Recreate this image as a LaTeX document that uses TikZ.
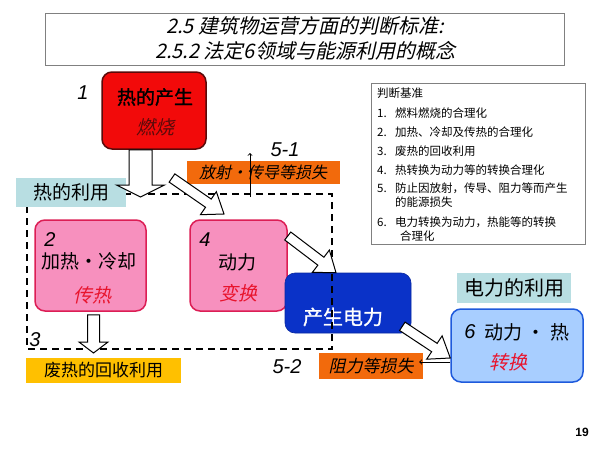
\documentclass[tikz,border=0pt]{standalone}
\usepackage{fontspec}
\setmainfont{Noto Sans CJK SC}
\newfontfamily\cjkit{Noto Sans CJK SC}[FakeSlant=0.22]
\newfontfamily\cjkbf{Noto Sans CJK SC}[FakeBold=1.2]
\newfontfamily\cjkbfit{Noto Sans CJK SC}[FakeBold=1.2,FakeSlant=0.22]
\newfontfamily\latin{Liberation Sans}
\usetikzlibrary{calc}

\definecolor{heatred}{HTML}{F20A0A}
\definecolor{heatline}{HTML}{5A0A0A}
\definecolor{pinkfill}{HTML}{F790BE}
\definecolor{pinkline}{HTML}{DC1E55}
\definecolor{genblue}{HTML}{0A32C8}
\definecolor{elecfill}{HTML}{A8CEFF}
\definecolor{elecline}{HTML}{1E5ADC}
\definecolor{tagteal}{HTML}{B8DEE2}
\definecolor{lossorange}{HTML}{F26A0C}
\definecolor{wasteyellow}{HTML}{FFC000}
\definecolor{accent}{HTML}{E8142D}

\tikzset{
  box/.style={rounded corners=10pt, line width=1.5pt},
  tagbox/.style={inner sep=0pt, font=\fontsize{19}{22}\selectfont},
  losstag/.style={fill=lossorange, inner sep=0pt, font=\cjkit\fontsize{16}{19}\selectfont},
  numlabel/.style={font=\latin\itshape\fontsize{20}{22}\selectfont},
  crit/.style={anchor=west, inner sep=0pt, font=\fontsize{11.5}{13}\selectfont},
  blockarr/.style={draw=black, fill=white, line width=1pt, line join=miter},
  thinarr/.style={->, line width=0.9pt}
}

% tail, tip, half shaft, half head, head length
\newcommand\blockarrow[5]{%
  \coordinate (ba) at (#1);
  \coordinate (bb) at (#2);
  \coordinate (bc) at ($(bb)!#5!(ba)$);
  \draw[blockarr] ($(ba)!#3!90:(bb)$) -- ($(bc)!#3!-90:(ba)$)
    -- ($(bc)!#4!-90:(ba)$) -- (bb) -- ($(bc)!#4!90:(ba)$)
    -- ($(bc)!#3!90:(ba)$) -- ($(ba)!#3!-90:(bb)$) -- cycle;
}
\newcommand\critline[2]{\makebox[18pt][l]{#1}#2}

\begin{document}
\begin{tikzpicture}[x=1pt, y=-1pt]
  \useasboundingbox (0,0) rectangle (600,450);

  % title
  \node[draw=gray, line width=1pt, minimum width=519pt, minimum height=52pt]
    (title) at (304.5,39) {};
  \node[font=\cjkit\fontsize{20}{22}\selectfont] (title1) at (305,26)
    {2.5 建筑物运营方面的判断标准:};
  \node[font=\cjkit\fontsize{20}{22}\selectfont] (title2) at (305,51)
    {2.5.2 法定6领域与能源利用的概念};

  % criteria list
  \node[draw=gray, line width=1pt, minimum width=214pt, minimum height=161pt]
    (criteria) at (478,163.5) {};
  \node[crit] (c0) at (377,93) {判断基准};
  \node[crit] (c1) at (377,113) {\critline{1.}{燃料燃烧的合理化}};
  \node[crit] (c2) at (377,132) {\critline{2.}{加热、冷却及传热的合理化}};
  \node[crit] (c3) at (377,151) {\critline{3.}{废热的回收利用}};
  \node[crit] (c4) at (377,170) {\critline{4.}{热转换为动力等的转换合理化}};
  \node[crit] (c5) at (377,188) {\critline{5.}{防止因放射，传导、阻力等而产生}};
  \node[crit] (c5b) at (395,202) {的能源损失};
  \node[crit] (c6) at (377,222) {\critline{6.}{电力转换为动力，热能等的转换}};
  \node[crit] (c6b) at (400,236) {合理化};

  % 1: heat generation
  \node[box, draw=heatline, fill=heatred, minimum width=104pt, minimum height=77pt]
    (heat) at (154,110.5) {};
  \node[font=\cjkbf\fontsize{19}{22}\selectfont] at (155,97) {热的产生};
  \node[font=\cjkit\fontsize{19}{22}\selectfont, heatline] at (155,127) {燃烧};
  \node[numlabel] (n1) at (83,93) {1};

  % 2 and 4
  \node[box, draw=pinkline, fill=pinkfill, minimum width=111pt, minimum height=91pt]
    (heating) at (90.5,265.5) {};
  \node[numlabel] (n2) at (50,240) {2};
  \node[font=\fontsize{19}{22}\selectfont] at (89,261) {加热·冷却};
  \node[font=\cjkit\fontsize{19}{22}\selectfont, accent] at (92,295) {传热};

  \node[box, draw=pinkline, fill=pinkfill, minimum width=97pt, minimum height=91pt]
    (power) at (238.5,265.5) {};
  \node[numlabel] (n4) at (205,240) {4};
  \node[font=\fontsize{19}{22}\selectfont] at (237,262) {动力};
  \node[font=\cjkit\fontsize{19}{22}\selectfont, accent] at (238,293) {变换};

  % power generation, under the dashed zone
  \node[rounded corners=10pt, draw=genblue!80!black, fill=genblue, line width=0.6pt,
    minimum width=126pt, minimum height=60pt] (gen) at (348,303) {};
  \node[font=\cjkbf\fontsize{20}{23}\selectfont, white] at (343,317) {产生电力};

  \draw[line width=1.2pt, dash pattern=on 7pt off 5pt] (27,194) rectangle (332,349);

  % 6: use of electricity
  \node[box, draw=elecline, fill=elecfill, minimum width=132pt, minimum height=73pt]
    (elec) at (517,345.5) {};
  \node[numlabel] (n6) at (470,332) {6};
  \node[font=\fontsize{19}{22}\selectfont] at (527,332) {动力 · 热};
  \node[font=\cjkit\fontsize{19}{22}\selectfont, accent] at (508,362) {转换};

  % tags
  \node[tagbox, fill=tagteal, minimum width=110pt, minimum height=29pt]
    (heatuse) at (71,192.5) {热的利用};
  \node[tagbox, fill=tagteal, minimum width=114pt, minimum height=30pt,
    font=\fontsize{20}{23}\selectfont] (elecuse) at (514,288) {电力的利用};
  \node[tagbox, fill=wasteyellow, minimum width=155pt, minimum height=25pt,
    font=\fontsize{17}{20}\selectfont] (waste) at (103.5,370.5) {废热的回收利用};
  \node[losstag, minimum width=153pt, minimum height=23pt] (loss1) at (263,172.5)
    {放射・传导等损失};
  \node[losstag, minimum width=104pt, minimum height=26pt,
    font=\cjkit\fontsize{17}{20}\selectfont] (loss2) at (371,366) {阻力等损失};
  \node[numlabel] (n3) at (35,340) {3};
  \node[numlabel] (n51) at (285,150) {5-1};
  \node[numlabel] (n52) at (287,367) {5-2};

  % block arrows
  \coordinate (heattip) at (140.5,197);
  \coordinate (diagtail) at (172,178);
  \coordinate (diagtip) at (224,214);
  \coordinate (wastetip) at (93.5,353);
  \blockarrow{[xshift=-13.5pt]heat.south}{heattip}{11.5pt}{24pt}{12pt}
  \blockarrow{diagtail}{diagtip}{5pt}{14pt}{19pt}
  \blockarrow{[yshift=29.5pt]power.east}{[xshift=-12pt]gen.north}{5pt}{14pt}{19pt}
  \blockarrow{[xshift=-9pt,yshift=7pt]gen.south east}{[yshift=-12.5pt]elec.west}{5pt}{14pt}{19pt}
  \blockarrow{[xshift=3pt,yshift=-3pt]heating.south}{wastetip}{6pt}{14.5pt}{11pt}

  % loss arrows
  \coordinate (zonetop) at (250,197);
  \coordinate (losstip) at (250,153);
  \draw[thinarr] (zonetop) -- (losstip);
  \draw[thinarr] ([yshift=-16.5pt]elec.west) -- ([xshift=-4pt,yshift=4pt]loss2.east);

  \node[font=\latin\bfseries\fontsize{12}{14}\selectfont] (page) at (582,432) {19};
\end{tikzpicture}
\end{document}
